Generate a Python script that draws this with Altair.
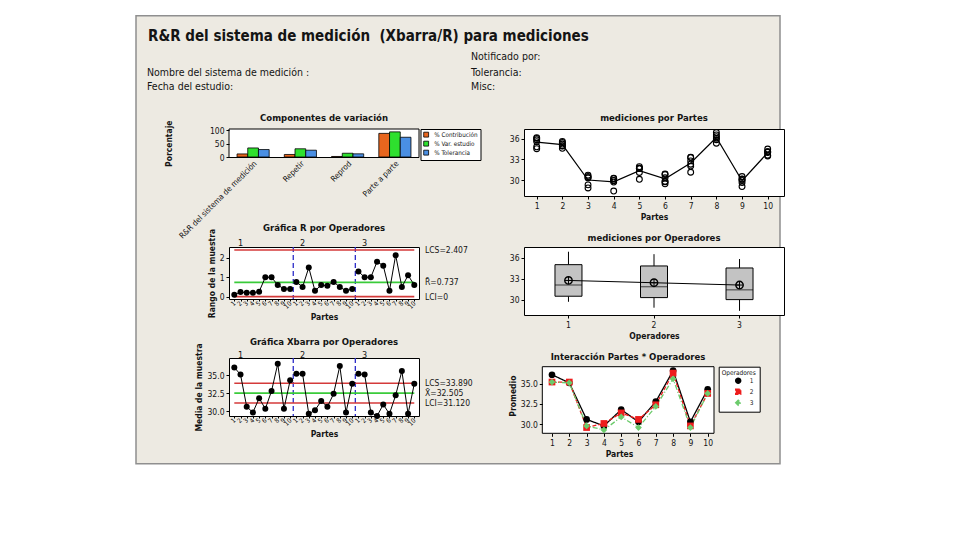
import altair as alt
import pandas as pd

FONT = "DejaVu Sans Condensed, DejaVu Sans"
INK = "#141414"
BEIGE = "#EDEAE2"
PANEL_EDGE = "#8F8F8F"
RED = "#D43A3A"
GREEN = "#3ACB3A"
BLUE = "#2B2BC8"

# ---------------- header ----------------
main_title = "R&R del sistema de medición \u00a0(Xbarra/R) para mediciones"
left_info = ["Nombre del sistema de medición :", "Fecha del estudio:"]
right_info = ["Notificado por:", "Tolerancia:", "Misc:"]

# ---------------- components of variation ----------------
sources = ["R&R del sistema de medición", "Repetir", "Reprod", "Parte a parte"]
series_names = ["% Contribución", "% Var. estudio", "% Tolerancia"]
pct_contribucion = [11.5, 9.5, 2.0, 88.5]
pct_var_estudio = [33.9, 30.8, 14.1, 94.1]
pct_tolerancia = [28.0, 25.5, 11.9, 74.0]

# ---------------- measurements (2 trials per operator and part) ----------------
operators = ["1", "2", "3"]
parts = [1, 2, 3, 4, 5, 6, 7, 8, 9, 10]
op1_trial1 = [36.15, 35.22, 30.70, 29.90, 31.93, 30.80, 33.30, 36.90, 30.50, 34.50]
op1_trial2 = [36.05, 34.98, 30.50, 29.70, 31.67, 29.80, 32.30, 36.30, 30.10, 34.10]
op2_trial1 = [35.58, 35.45, 30.35, 30.25, 31.70, 30.88, 32.78, 36.55, 29.95, 34.00]
op2_trial2 = [34.82, 34.95, 28.85, 29.95, 31.10, 30.32, 32.02, 36.05, 29.65, 33.60]
op3_trial1 = [35.85, 35.60, 30.30, 30.20, 31.70, 29.75, 33.27, 35.85, 30.15, 34.10]
op3_trial2 = [34.55, 34.60, 29.30, 28.40, 30.10, 29.45, 31.13, 35.35, 29.05, 33.50]

r_limit_values = [2.407, 0.737, 0.0]
r_limit_labels = ["LCS=2.407", "R\u0304=0.737", "LCI=0"]
x_limit_values = [33.890, 32.505, 31.120]
x_limit_labels = ["LCS=33.890", "X\u0304=32.505", "LCI=31.120"]
limit_kinds = ["ucl", "cl", "lcl"]

# ---------------- data tables ----------------
trials = {"1": (op1_trial1, op1_trial2), "2": (op2_trial1, op2_trial2), "3": (op3_trial1, op3_trial2)}
rows = []
for op in operators:
    t1, t2 = trials[op]
    for p, a, b in zip(parts, t1, t2):
        rows.append({"op": op, "part": p, "trial": 1, "val": a})
        rows.append({"op": op, "part": p, "trial": 2, "val": b})
meas = pd.DataFrame(rows)

sub = meas.groupby(["op", "part"], as_index=False).agg(m=("val", "mean"), hi=("val", "max"), lo=("val", "min"))
sub["r"] = sub["hi"] - sub["lo"]
sub["idx"] = (sub["op"].astype(int) - 1) * len(parts) + sub["part"]

comp_rows = []
for s_name, vals in zip(series_names, [pct_contribucion, pct_var_estudio, pct_tolerancia]):
    for src, v in zip(sources, vals):
        comp_rows.append({"source": src, "series": s_name, "pct": v})
comp_df = pd.DataFrame(comp_rows)

one = pd.DataFrame({"k": [0]})


def fixed_text(txt, x, y, size, weight="normal", align="left", baseline="alphabetic"):
    return alt.Chart(one).mark_text(
        text=txt, font=FONT, fontSize=size, fontWeight=weight, color=INK,
        align=align, baseline=baseline
    ).encode(x=alt.value(x), y=alt.value(y))


# ---------------- components chart (also carries panel + header) ----------------
CW, CFH, CCH = 190, 28.5, 75

panel_bg = alt.Chart(one).mark_rect(fill=BEIGE, stroke=PANEL_EDGE, strokeWidth=1.5).encode(
    x=alt.value(-93), x2=alt.value(551), y=alt.value(-113.3), y2=alt.value(334.7))

header = [
    fixed_text(main_title, -81, -87.6, 15, "bold"),
    fixed_text(right_info[0], 242, -69, 10.5),
    fixed_text(left_info[0], -82, -53.3, 10.5),
    fixed_text(right_info[1], 242, -53.3, 10.5),
    fixed_text(left_info[1], -82, -39.3, 10.5),
    fixed_text(right_info[2], 242, -39.3, 10.5),
]

comp_frame = alt.Chart(one).mark_rect(fill="white", stroke="black", strokeWidth=1).encode(
    x=alt.value(0), x2=alt.value(CW), y=alt.value(0), y2=alt.value(CFH))

comp_bars = alt.Chart(comp_df).mark_bar(stroke="black", strokeWidth=0.8).encode(
    x=alt.X("source:N", sort=sources,
            scale=alt.Scale(domain=sources, paddingInner=0.32, paddingOuter=0.17),
            axis=alt.Axis(title=None, labelAngle=315, labelAlign="right", labelBaseline="top",
                          labelFontSize=8, ticks=False, domain=False, offset=-(CCH - CFH),
                          zindex=1, labelPadding=2, labelLimit=300)),
    xOffset=alt.XOffset("series:N", sort=series_names,
                        scale=alt.Scale(domain=series_names, paddingInner=0, paddingOuter=0)),
    y=alt.Y("pct:Q", scale=alt.Scale(domain=[-176, 104.9], nice=False, zero=False),
            axis=alt.Axis(title="Porcentaje", values=[0, 50, 100], zindex=1, titleX=-56,
                          titleY=CFH / 2, titleAngle=270, titleAlign="center",
                          titleBaseline="bottom")),
    color=alt.Color("series:N", sort=series_names,
                    scale=alt.Scale(domain=series_names, range=["#E8661E", "#2EE02E", "#4A8FE3"]),
                    legend=alt.Legend(orient="none", legendX=CW + 1.5, legendY=0, title=None,
                                      fillColor="white", strokeColor="black", padding=2.5,
                                      symbolType="square", symbolSize=24, symbolStrokeColor="black",
                                      symbolStrokeWidth=0.8, labelFontSize=6.3, rowPadding=0,
                                      labelOffset=5)),
)
comp_title = fixed_text("Componentes de variación", CW / 2, -11, 9.5, "bold", "center", "middle")

comp_chart = alt.layer(panel_bg, *header, comp_frame, comp_bars, comp_title).properties(
    width=CW, height=CCH, view=alt.ViewBackground(fill="transparent", stroke="transparent"))

# ---------------- mediciones por Partes ----------------
PW, PH = 260, 67
partes_x = alt.X("part:Q", scale=alt.Scale(domain=[0.505, 10.635], nice=False, zero=False),
                 axis=alt.Axis(values=parts, format="d", title="Partes", labelFlush=False))
partes_yscale = alt.Scale(domain=[27.68, 37.41], nice=False, zero=False)
partes_yaxis = alt.Axis(values=[30, 33, 36], title=None)
partes_line = alt.Chart(meas).mark_line(color="black", strokeWidth=1.2).encode(
    x=partes_x, y=alt.Y("mean(val):Q", scale=partes_yscale, axis=partes_yaxis))
partes_pts = alt.Chart(meas).mark_point(shape="circle", filled=False, color="black", size=34,
                                        strokeWidth=1.1, opacity=1).encode(
    x=partes_x, y=alt.Y("val:Q", scale=partes_yscale, axis=partes_yaxis))
partes_chart = alt.layer(partes_line, partes_pts).properties(
    width=PW, height=PH, title=alt.TitleParams("mediciones por Partes", offset=5))

# ---------------- mediciones por Operadores ----------------
OH = 68
op_x = alt.X("op:N", sort=operators, scale=alt.Scale(domain=operators, paddingInner=0, paddingOuter=0.02),
             axis=alt.Axis(labelAngle=0, title="Operadores"))
op_yscale = alt.Scale(domain=[27.8, 37.58], nice=False, zero=False)
op_yaxis = alt.Axis(values=[30, 33, 36], title=None)
op_box = alt.Chart(meas).mark_boxplot(
    extent="min-max", size=27, color="#C3C3C3",
    box={"stroke": "black", "strokeWidth": 1},
    median={"color": "black"},
    rule={"color": "black", "strokeWidth": 1},
    ticks=False, outliers=False,
).encode(x=op_x, y=alt.Y("val:Q", scale=op_yscale, axis=op_yaxis))
op_mean_line = alt.Chart(meas).mark_line(color="black", strokeWidth=1).encode(
    x=op_x, y=alt.Y("mean(val):Q", scale=op_yscale, axis=op_yaxis))
op_mean_circle = alt.Chart(meas).mark_point(shape="circle", filled=False, color="black", size=55,
                                            strokeWidth=1.4, opacity=1).encode(
    x=op_x, y=alt.Y("mean(val):Q", scale=op_yscale, axis=op_yaxis))
op_mean_cross = alt.Chart(meas).mark_point(shape="M-1,0L1,0M0,-1L0,1", filled=False, color="black",
                                           size=55, strokeWidth=1, opacity=1).encode(
    x=op_x, y=alt.Y("mean(val):Q", scale=op_yscale, axis=op_yaxis))
op_chart = alt.layer(op_box, op_mean_line, op_mean_circle, op_mean_cross).properties(
    width=PW, height=OH, title=alt.TitleParams("mediciones por Operadores", offset=5))

# ---------------- R and Xbar charts ----------------
SW = 190
sub_scale = alt.Scale(domain=[0.146, 30.76], nice=False, zero=False)
sub_xaxis = alt.Axis(values=list(range(1, len(sub) + 1)), labelExpr="((datum.value - 1) % 10) + 1",
                     labelAngle=315, labelAlign="right", labelBaseline="middle", labelFontSize=6.5,
                     labelOverlap=False, labelFlush=False, labelBound=False, tickSize=2,
                     labelPadding=1, title="Partes", titlePadding=3)
X_IDX = alt.X("idx:Q", scale=sub_scale, axis=sub_xaxis)


def control_chart(ycol, ydomain, yvalues, yformat, ytitle, lim_vals, lim_labels, height, title,
                  title_offset, lbl_y):
    Y = alt.Y(f"{ycol}:Q", scale=alt.Scale(domain=ydomain, nice=False, zero=False),
              axis=alt.Axis(values=yvalues, format=yformat, title=ytitle))
    first, last = int(sub["idx"].min()), int(sub["idx"].max())
    lim = pd.DataFrame({ycol: lim_vals, "label": lim_labels, "kind": limit_kinds,
                        "idx": [first] * 3, "idx2": [last] * 3})
    div = pd.DataFrame({"idx": [len(parts) * k + 0.5 for k in range(1, len(operators))]})
    oplab = pd.DataFrame({"idx": [(int(o) - 1) * len(parts) + 2 for o in operators], "label": operators})
    dividers = alt.Chart(div).mark_rule(color=BLUE, strokeDash=[5, 3], strokeWidth=1.3).encode(x=X_IDX)
    red = alt.Chart(lim[lim["kind"] != "cl"]).mark_rule(color=RED, strokeWidth=1.6).encode(
        x=X_IDX, x2="idx2:Q", y=Y)
    green = alt.Chart(lim[lim["kind"] == "cl"]).mark_rule(color=GREEN, strokeWidth=1.6).encode(
        x=X_IDX, x2="idx2:Q", y=Y)
    line = alt.Chart(sub).mark_line(color="black", strokeWidth=1).encode(x=X_IDX, y=Y, detail="op:N")
    pts = alt.Chart(sub).mark_circle(color="black", size=36, opacity=1).encode(x=X_IDX, y=Y)
    lim_text = alt.Chart(lim).mark_text(align="left", baseline="middle", fontSize=8.5, color=INK,
                                        font=FONT).encode(x=alt.value(SW + 6), y=Y, text="label:N")
    op_text = alt.Chart(oplab).mark_text(baseline="middle", fontSize=9, color=INK, font=FONT).encode(
        x=X_IDX, y=alt.value(lbl_y), text="label:N")
    return alt.layer(dividers, red, green, line, pts, lim_text, op_text).properties(
        width=SW, height=height, title=alt.TitleParams(title, offset=title_offset))


r_chart = control_chart("r", [-0.12, 2.56], [0, 1, 2], "d", "Rango de la muestra",
                        r_limit_values, r_limit_labels, 52, "Gráfica R por Operadores", -4, -4.3)
x_chart = control_chart("m", [29.3, 37.42], [30, 32.5, 35], ".1f", "Media de la muestra",
                        x_limit_values, x_limit_labels, 58, "Gráfica Xbarra por Operadores", -4, -3)

# ---------------- Interaction ----------------
IW, IH = 190, 75.3
inter_frame = alt.Chart(one).mark_rect(fill="white", stroke="black", strokeWidth=1).encode(
    x=alt.value(18.3), x2=alt.value(IW), y=alt.value(8.7), y2=alt.value(IH))
inter_x = alt.X("part:Q", scale=alt.Scale(domain=[-0.618, 10.364], nice=False, zero=False),
                axis=alt.Axis(values=parts, format="d", title="Partes", domain=False, zindex=1,
                              labelFlush=False))
inter_y = alt.Y("mean(val):Q", scale=alt.Scale(domain=[28.89, 38.16], nice=False, zero=False),
                axis=alt.Axis(values=[30, 32.5, 35], format=".1f", title="Promedio", offset=-18.3,
                              domain=False, zindex=1))
inter_legend = alt.Legend(orient="none", legendX=194.7, legendY=8.7, title="Operadores",
                          titleFontSize=6.5, titleFontWeight="normal", titleAnchor="middle",
                          labelFontSize=6.5, fillColor="white", strokeColor="black", padding=3,
                          symbolSize=24, rowPadding=0, titlePadding=1, labelOffset=8,
                          symbolOffset=10)
inter_color = alt.Color("op:N", sort=operators,
                        scale=alt.Scale(domain=operators, range=["black", "#EE1C1C", "#6CCB6C"]),
                        legend=inter_legend)
inter_lines = alt.Chart(meas).mark_line(strokeWidth=1.3).encode(
    x=inter_x, y=inter_y, color=inter_color,
    strokeDash=alt.StrokeDash("op:N", sort=operators,
                              scale=alt.Scale(domain=operators, range=[[1, 0], [4, 2], [5, 2, 1, 2]]),
                              legend=None))
inter_pts = alt.Chart(meas).mark_point(filled=True, size=45, opacity=1).encode(
    x=inter_x, y=inter_y, color=inter_color,
    shape=alt.Shape("op:N", sort=operators,
                    scale=alt.Scale(domain=operators, range=["circle", "square", "diamond"]),
                    legend=inter_legend))
inter_chart = alt.layer(inter_frame, inter_lines, inter_pts).properties(
    width=IW, height=IH, view=alt.ViewBackground(fill="transparent", stroke="transparent"),
    title=alt.TitleParams("Interacción Partes * Operadores", offset=-3.5, dx=9))

# ---------------- assemble ----------------
chart = alt.concat(
    comp_chart, partes_chart, r_chart, op_chart, x_chart, inter_chart,
    columns=2, spacing={"row": 43, "column": 105}, bounds="flush",
).resolve_scale(
    color="independent", shape="independent", strokeDash="independent"
).properties(
    padding={"left": 126, "top": 6, "right": 2, "bottom": 2}
).configure(
    background="white", font=FONT
).configure_view(
    fill="white", stroke="black", strokeWidth=1
).configure_axis(
    labelFont=FONT, labelFontSize=8.5, labelColor=INK, titleFont=FONT, titleFontSize=8.5,
    titleFontWeight="bold", titleColor=INK, tickColor="black", tickSize=3, tickWidth=1,
    domain=False, grid=False, labelPadding=2, titlePadding=3
).configure_title(
    font=FONT, fontSize=9.5, fontWeight="bold", color=INK, anchor="middle"
).configure_legend(
    labelFont=FONT, titleFont=FONT, labelColor=INK, titleColor=INK
)

chart.save("out.html", embed_options={"renderer": "svg", "actions": False})
